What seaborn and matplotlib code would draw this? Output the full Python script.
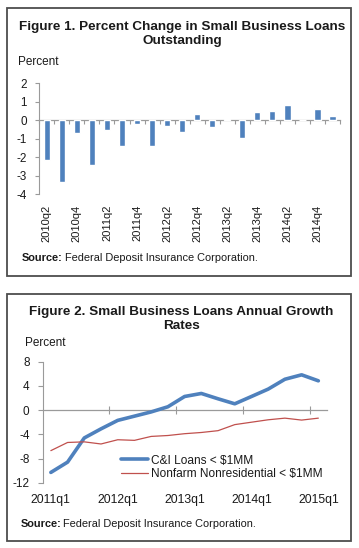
import numpy as np
import pandas as pd
import matplotlib
matplotlib.use("Agg")
import matplotlib.pyplot as plt
import seaborn as sns
from matplotlib.patches import Rectangle

# ---------------- data ----------------
quarters1 = ['2010q2', '2010q3', '2010q4', '2011q1', '2011q2', '2011q3', '2011q4',
             '2012q1', '2012q2', '2012q3', '2012q4', '2013q1', '2013q2', '2013q3',
             '2013q4', '2014q1', '2014q2', '2014q3', '2014q4', '2015q1']
pct_change = [-2.16, -3.35, -0.70, -2.41, -0.52, -1.37, -0.18, -1.37, -0.29, -0.65,
              0.32, -0.38, 0.07, -0.95, 0.47, 0.50, 0.85, 0.0, 0.63, 0.23]
yticks1 = [2, 1, 0, -1, -2, -3, -4]

quarters2 = ['2011q1', '2011q2', '2011q3', '2011q4', '2012q1', '2012q2', '2012q3',
             '2012q4', '2013q1', '2013q2', '2013q3', '2013q4', '2014q1', '2014q2',
             '2014q3', '2014q4', '2015q1']
ci_loans = [-10.3, -8.6, -4.6, -3.1, -1.7, -1.0, -0.3, 0.55, 2.25, 2.75, 1.87, 1.04,
            2.25, 3.47, 5.1, 5.83, 4.84]
nonfarm = [-6.7, -5.35, -5.25, -5.6, -4.9, -5.0, -4.35, -4.2, -3.9, -3.7, -3.4, -2.4,
           -2.0, -1.6, -1.33, -1.65, -1.33]
yticks2 = [8, 4, 0, -4, -8, -12]
series_names = ['C&I Loans < $1MM', 'Nonfarm Nonresidential < $1MM']

# ---------------- style ----------------
sns.set_theme(style="white")
plt.rcParams['font.family'] = ['Liberation Sans', 'DejaVu Sans']

W, H = 359, 548
fig = plt.figure(figsize=(W / 100, H / 100), dpi=100)


def fx(px):
    return px / W


def fy(py):
    return 1 - py / H


BLUE = '#4f81bd'
RED = '#c0504d'
GRAY = '#9a9a9a'
TXT = '#1a1a1a'

# ---------------- boxes ----------------
for (x0, y0, x1, y1) in [(7, 8, 351.3, 275.7), (7, 294.3, 350.5, 540.7)]:
    fig.patches.append(Rectangle((fx(x0), fy(y1)), (x1 - x0) / W, (y1 - y0) / H,
                                 transform=fig.transFigure, fill=False,
                                 ec='#4d4d4d', lw=1.3))

# ---------------- Figure 1 ----------------
ax1 = fig.add_axes([fx(39.3), fy(194.3), (340 - 39.3) / W, (194.3 - 83.3) / H])
sns.barplot(x=quarters1, y=pct_change, color=BLUE, saturation=1, width=0.42, ax=ax1)
ax1.set_xlim(-0.5, len(quarters1) - 0.5)
ax1.set_ylim(-4, 2)
ax1.set_yticks(yticks1)
ax1.set_yticklabels([str(v) for v in yticks1], fontsize=8.4, color=TXT)
ax1.set_xticks(range(0, len(quarters1), 2))
ax1.set_xticklabels(quarters1[::2], rotation=90, fontsize=8.0, color=TXT)
ax1.tick_params(axis='x', length=0, pad=7.7)
ax1.tick_params(axis='y', length=3, width=0.8, color=GRAY, pad=6, left=True)
for s in ['top', 'right', 'bottom']:
    ax1.spines[s].set_visible(False)
ax1.spines['left'].set_color(GRAY)
ax1.spines['left'].set_linewidth(0.8)
ax1.set_xlabel('')
ax1.set_ylabel('')
ax1.grid(False)

zero1 = (0 - (-4)) / (2 - (-4))
sec1 = ax1.secondary_xaxis(zero1)
sec1.set_alignment('bottom')
sec1.set_xticks(np.arange(-0.5, len(quarters1), 1.0))
sec1.tick_params(axis='x', direction='out', length=3, width=0.8, color=GRAY,
                 labelbottom=False, labeltop=False)
sec1.spines['bottom'].set_color(GRAY)
sec1.spines['bottom'].set_linewidth(0.9)

fig.text(fx(182), fy(34), 'Figure 1. Percent Change in Small Business Loans\nOutstanding',
         ha='center', va='center', fontsize=9.7, fontweight='bold', color=TXT,
         linespacing=1.22)
fig.text(fx(18), fy(62), 'Percent', ha='left', va='center', fontsize=8.5, color=TXT)
fig.text(fx(22), fy(258.3), 'Source:', ha='left', va='center', fontsize=7.9,
         fontweight='bold', color=TXT)
fig.text(fx(65), fy(258.3), 'Federal Deposit Insurance Corporation.', ha='left',
         va='center', fontsize=7.9, color=TXT)

# ---------------- Figure 2 ----------------
ax2 = fig.add_axes([fx(42.5), fy(482.7), (326.7 - 42.5) / W, (482.7 - 361.7) / H])
xs = np.arange(len(quarters2))
sns.lineplot(x=xs, y=ci_loans, color=BLUE, lw=2.6, label=series_names[0], ax=ax2)
sns.lineplot(x=xs, y=nonfarm, color=RED, lw=0.9, label=series_names[1], ax=ax2)
ax2.set_xlim(-0.5, len(quarters2) - 0.5)
ax2.set_ylim(-12, 8)
ax2.set_yticks(yticks2)
ax2.set_yticklabels([str(v) for v in yticks2], fontsize=8.5, color=TXT)
ax2.set_xticks(xs[::4])
ax2.set_xticklabels(quarters2[::4], fontsize=8.8, color=TXT)
ax2.tick_params(axis='x', length=0, pad=8)
ax2.tick_params(axis='y', length=3.5, width=0.8, color=GRAY, pad=5.8, left=True)
for s in ['top', 'right', 'bottom']:
    ax2.spines[s].set_visible(False)
ax2.spines['left'].set_color(GRAY)
ax2.spines['left'].set_linewidth(0.8)
ax2.set_xlabel('')
ax2.set_ylabel('')
ax2.grid(False)

zero2 = (0 - (-12)) / (8 - (-12))
sec2 = ax2.secondary_xaxis(zero2)
sec2.set_alignment('bottom')
sec2.set_xticks(np.arange(3.5, len(quarters2), 4.0))
sec2.tick_params(axis='x', direction='inout', length=6, width=0.8, color=GRAY,
                 labelbottom=False, labeltop=False)
sec2.spines['bottom'].set_color(GRAY)
sec2.spines['bottom'].set_linewidth(0.9)

leg = ax2.legend(loc='upper left', bbox_to_anchor=((120.7 - 42.5) / 284.2, 0.232),
                 frameon=False, fontsize=8.6, handlelength=2.3, handletextpad=0.2,
                 labelspacing=0.1, borderpad=0, borderaxespad=0)
for t in leg.get_texts():
    t.set_color(TXT)

fig.text(fx(181), fy(319), 'Figure 2. Small Business Loans Annual Growth\nRates',
         ha='center', va='center', fontsize=9.7, fontweight='bold', color=TXT,
         linespacing=1.22)
fig.text(fx(25), fy(343.3), 'Percent', ha='left', va='center', fontsize=8.5, color=TXT)
fig.text(fx(20.7), fy(524.3), 'Source:', ha='left', va='center', fontsize=7.9,
         fontweight='bold', color=TXT)
fig.text(fx(63), fy(524.3), 'Federal Deposit Insurance Corporation.', ha='left',
         va='center', fontsize=7.9, color=TXT)

fig.savefig('out.png', dpi=100)
